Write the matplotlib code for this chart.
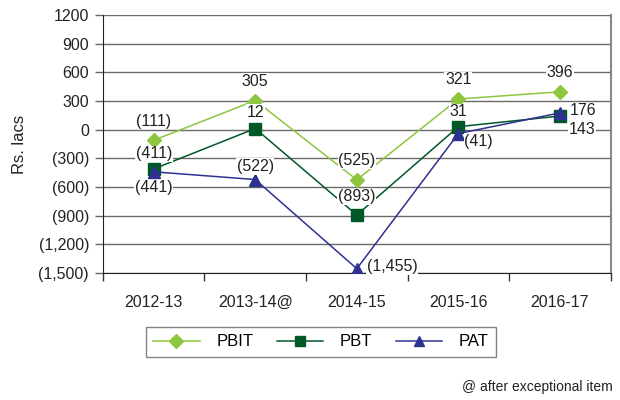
import numpy as np
import matplotlib.pyplot as plt

years = ['2012-13', '2013-14@', '2014-15', '2015-16', '2016-17']
pbit = [-111, 305, -525, 321, 396]
pbt = [-411, 12, -893, 31, 143]
pat = [-441, -522, -1455, -41, 176]

yticks = [1200, 900, 600, 300, 0, -300, -600, -900, -1200, -1500]
ytick_labels = ['1200', '900', '600', '300', '0', '(300)', '(600)', '(900)',
                '(1,200)', '(1,500)']

c_pbit = '#8dc63f'
c_pbt = '#005826'
c_pat = '#2e3192'

def fmt(v):
    s = '{:,}'.format(abs(v))
    return '(' + s + ')' if v < 0 else s

plt.rcParams['font.family'] = ['Liberation Sans', 'DejaVu Sans']
fig = plt.figure(figsize=(6.2, 4), dpi=100)
ax = fig.add_axes([0.166, 0.3175, 0.819, 0.645])

x = np.arange(len(years))
ax.plot(x, pbit, color=c_pbit, marker='D', ms=7.5, lw=1.1, label='PBIT', zorder=3)
ax.plot(x, pbt, color=c_pbt, marker='s', ms=8, lw=1.1, label='PBT', zorder=3)
ax.plot(x, pat, color=c_pat, marker='^', ms=8, lw=1.1, label='PAT', zorder=3)

ax.set_xlim(-0.5, len(years) - 0.5)
ax.set_ylim(-1500, 1200)
ax.set_yticks(yticks)
ax.set_yticklabels(ytick_labels)
ax.set_xticks(x)
ax.set_xticklabels(years)
ax.set_xticks(np.arange(-0.5, len(years)), minor=True)
ax.tick_params(axis='x', which='major', length=0, pad=16, labelsize=11.5, colors='#222')
ax.tick_params(axis='x', which='minor', length=6, width=1, color='#333', direction='out')
ax.tick_params(axis='y', length=6, width=1, color='#666', labelsize=11.5,
               labelcolor='#222', pad=4)
ax.yaxis.grid(True, color='#6a6a6a', lw=1)
ax.set_axisbelow(True)
for s in ['left', 'bottom']:
    ax.spines[s].set_color('#222')
ax.spines['top'].set_visible(False)
ax.spines['right'].set_color('#888')
ax.spines['right'].set_linewidth(1.5)
ax.set_ylabel('Rs. lacs', fontsize=12, color='#222', labelpad=8)

box = dict(facecolor='white', edgecolor='none', pad=0.5)
def lab(xi, v, dx, dy, ha='center'):
    ax.annotate(fmt(v), (xi, v), xytext=(dx, dy), textcoords='offset pixels',
                ha=ha, va='center', fontsize=11.5, color='#222', bbox=box, zorder=4)

for i, v in enumerate(pbit):
    lab(i, v, 0, 19)
pbt_off = [(0, 15, 'center'), (0, 16, 'center'), (0, 18, 'center'),
           (0, 15, 'center'), (9, -13, 'left')]
for i, v in enumerate(pbt):
    lab(i, v, *pbt_off[i])
pat_off = [(0, -16, 'center'), (0, 13, 'center'), (10, 2, 'left'),
           (6, -8, 'left'), (10, 2, 'left')]
for i, v in enumerate(pat):
    lab(i, v, *pat_off[i])

leg = fig.legend(loc='center', bbox_to_anchor=(321 / 620, 1 - 342 / 400), ncol=3,
                 fontsize=12, handlelength=2.8, columnspacing=1.4, handletextpad=1.0,
                 fancybox=False, edgecolor='#666', borderpad=0.45, markerscale=0.9)
leg.get_frame().set_linewidth(1)

fig.text(613 / 620, 1 - 387 / 400, '@ after exceptional item', ha='right',
         va='center', fontsize=10, color='#222')

fig.savefig('out.png', dpi=100)
